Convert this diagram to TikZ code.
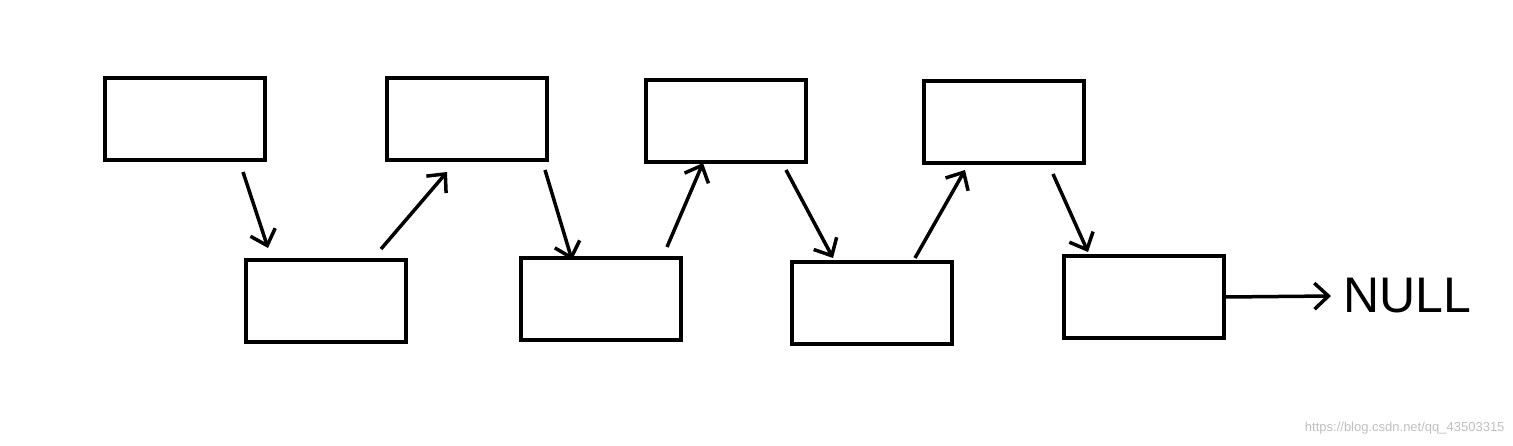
\documentclass[tikz,border=0pt]{standalone}
\usepackage{fontspec}
\setmainfont{Liberation Sans}
\usetikzlibrary{arrows.meta}
\begin{document}
\begin{tikzpicture}[x=1pt,y=-1pt,
  box/.style={draw,line width=4pt},
  arr/.style={line width=3.5pt,-{Straight Barb[length=14pt,width=26pt,line width=3.5pt]}}]
\useasboundingbox (0,0) rectangle (1513,446);
\node[box,minimum width=160pt,minimum height=82pt,inner sep=0pt] (t1) at (185,119) {};
\node[box,minimum width=160pt,minimum height=82pt,inner sep=0pt] (t2) at (467,119) {};
\node[box,minimum width=160pt,minimum height=82pt,inner sep=0pt] (t3) at (726,121) {};
\node[box,minimum width=160pt,minimum height=82pt,inner sep=0pt] (t4) at (1004,122) {};
\node[box,minimum width=160pt,minimum height=82pt,inner sep=0pt] (b1) at (326,301) {};
\node[box,minimum width=160pt,minimum height=82pt,inner sep=0pt] (b2) at (601,299) {};
\node[box,minimum width=160pt,minimum height=82pt,inner sep=0pt] (b3) at (872,303) {};
\node[box,minimum width=160pt,minimum height=82pt,inner sep=0pt] (b4) at (1144,297) {};
\coordinate (a1s) at (243,172); \coordinate (a1e) at (268,248);
\coordinate (a2s) at (381,249); \coordinate (a2e) at (447,172);
\coordinate (a3s) at (545,170); \coordinate (a3e) at (572,260);
\coordinate (a4s) at (667,247); \coordinate (a4e) at (703,163);
\coordinate (a5s) at (786,170); \coordinate (a5e) at (833,258);
\coordinate (a6s) at (915,258); \coordinate (a6e) at (965,170);
\coordinate (a7s) at (1053,174); \coordinate (a7e) at (1088,252);
\node[anchor=west,font=\fontsize{50}{50}\selectfont,inner sep=0pt] (null) at (1343,296) {NULL};
\draw[arr] (a1s) -- (a1e);
\draw[arr] (a2s) -- (a2e);
\draw[arr] (a3s) -- (a3e);
\draw[arr] (a4s) -- (a4e);
\draw[arr] (a5s) -- (a5e);
\draw[arr] (a6s) -- (a6e);
\draw[arr] (a7s) -- (a7e);
\draw[arr] (b4.east) -- ([xshift=-12pt]null.west);
\node[anchor=east,text=black!25,font=\fontsize{13}{13}\selectfont] (wm) at (1508,428) {https://blog.csdn.net/qq\_43503315};
\end{tikzpicture}
\end{document}
